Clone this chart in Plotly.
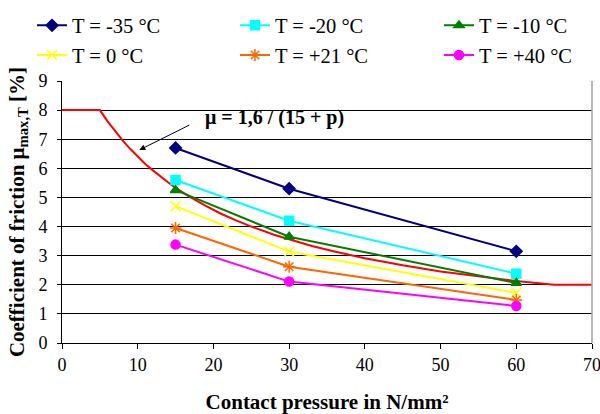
import plotly.graph_objects as go

pressure = [15, 30, 60]
series_names = ["T = -35 °C", "T = -20 °C", "T = -10 °C", "T = 0 °C", "T = +21 °C", "T = +40 °C"]
mu_m35 = [6.70, 5.30, 3.15]
mu_m20 = [5.60, 4.20, 2.38]
mu_m10 = [5.25, 3.65, 2.06]
mu_0 = [4.70, 3.14, 1.72]
mu_p21 = [3.95, 2.62, 1.48]
mu_p40 = [3.38, 2.11, 1.27]

# limit curve (mu = 1,6/(15+p), capped at 8 and 2)
limit_p = [0, 5, 6, 7, 8, 9, 10, 11, 12, 13, 14, 15, 17, 19, 21, 23, 25, 28, 30, 33, 36, 40, 45, 50, 55, 60, 65, 70]
limit_mu = [8.0, 8.0, 7.62, 7.27, 6.96, 6.67, 6.40, 6.15, 5.93, 5.71, 5.52, 5.33, 5.0, 4.71, 4.44, 4.21, 4.0, 3.72, 3.56, 3.33, 3.14, 2.91, 2.67, 2.46, 2.29, 2.13, 2.0, 2.0]

colors = ["#000080", "#00FFFF", "#008000", "#FFFF00", "#FF6600", "#FF00FF"]
symbols = ["diamond", "square", "triangle-up", "x-thin-open", "asterisk-open", "circle"]
sizes = [9, 9, 9, 10, 10, 9]
values = [mu_m35, mu_m20, mu_m10, mu_0, mu_p21, mu_p40]
legend_ids = ["legend", "legend2", "legend3", "legend", "legend2", "legend3"]

fig = go.Figure()
fig.add_trace(go.Scatter(x=limit_p, y=limit_mu, mode="lines", line=dict(color="#FF0000", width=2),
                         showlegend=False, hoverinfo="skip"))
for name, vals, c, s, sz, lg in zip(series_names, values, colors, symbols, sizes, legend_ids):
    fig.add_trace(go.Scatter(x=pressure, y=vals, name=name, mode="lines+markers", legend=lg,
                             line=dict(color=c, width=2),
                             marker=dict(symbol=s, color=c, size=sz, line=dict(color=c, width=1.5))))

font = "Liberation Serif"
leg_common = dict(orientation="v", y=1.288, yanchor="top", xanchor="left",
                  font=dict(size=20.5, family=font, color="black"), itemwidth=30,
                  bgcolor="rgba(0,0,0,0)", borderwidth=0)
fig.update_layout(
    width=600, height=414,
    margin=dict(l=62, r=8, t=81, b=71, autoexpand=False),
    paper_bgcolor="white", plot_bgcolor="white",
    font=dict(family=font, size=18, color="black"),
    showlegend=True,
    legend=dict(x=-0.0566, **leg_common),
    legend2=dict(x=0.3264, **leg_common),
    legend3=dict(x=0.7113, **leg_common),
    xaxis=dict(range=[0, 70], dtick=10, tick0=0, showgrid=False, zeroline=False,
               showline=True, linecolor="black", linewidth=1, ticks="outside", ticklen=5,
               tickcolor="black", tickfont=dict(size=18, family=font), automargin=False,
               ticklabeloverflow="allow",
               title=dict(text="<b>Contact pressure in N/mm²</b>", font=dict(size=21, family=font), standoff=20)),
    yaxis=dict(range=[0, 9], dtick=1, tick0=0, showgrid=True, gridcolor="black", gridwidth=1,
               zeroline=False, showline=True, linecolor="black", linewidth=1, ticks="outside",
               ticklen=4, tickcolor="black", tickfont=dict(size=18, family=font), automargin=False,
               ticklabelstandoff=6, ticklabeloverflow="allow",
               title=dict(text="<b>Coefficient of friction μ<sub>max,T</sub> [%]</b>",
                          font=dict(size=21, family=font), standoff=8)),
)
# right border of plot area
fig.add_shape(type="line", xref="paper", yref="paper", x0=1, x1=1, y0=0, y1=1,
              line=dict(color="#A0A0A0", width=1.5))
fig.add_annotation(x=10.21, y=6.63, ax=17.0, ay=7.51, xref="x", yref="y", axref="x", ayref="y",
                   showarrow=True, arrowhead=2, arrowsize=1.2, arrowwidth=1, arrowcolor="black", text="")
fig.add_annotation(x=18.6, y=7.74, xref="x", yref="y", text="<b>μ = 1,6 / (15 + p)</b>",
                   showarrow=False, xanchor="left", yanchor="middle", font=dict(size=20, family=font))

fig.write_html("out.html", config={"displayModeBar": False},
               post_script="document.body.style.margin='0px';")
